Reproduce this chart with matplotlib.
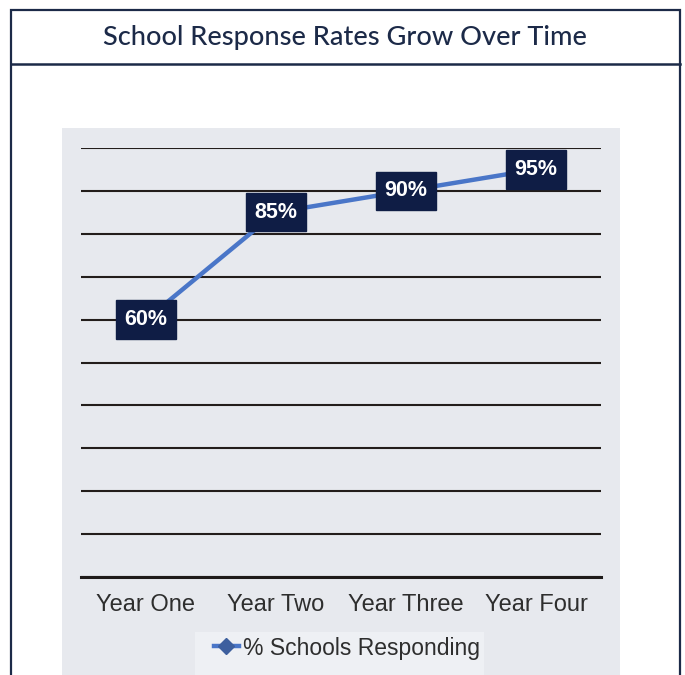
import matplotlib.pyplot as plt
from matplotlib.patches import Rectangle
from matplotlib.lines import Line2D

# data
years = ["Year One", "Year Two", "Year Three", "Year Four"]
pct_responding = [60, 85, 90, 95]
value_labels = ["60%", "85%", "90%", "95%"]

W, H = 685, 675
fig = plt.figure(figsize=(W / 100, H / 100), dpi=100)
fig.patch.set_facecolor("white")

def fx(px):
    return px / W

def fy(py):
    return 1 - py / H

navy = "#1c2a48"

# outer box and title strip
fig.patches.append(Rectangle((fx(11), fy(680)), fx(669), fy(10) - fy(680),
                             transform=fig.transFigure, fill=False, edgecolor=navy,
                             linewidth=1.6, zorder=-2))
fig.add_artist(Line2D([fx(11), fx(680)], [fy(64), fy(64)], transform=fig.transFigure,
                      color=navy, linewidth=1.8))
fig.text(fx(345), fy(38), "School Response Rates Grow Over Time", ha="center", va="center",
         fontsize=19.5, color=navy, family="Lato", fontweight="medium")

# grey chart panel
fig.patches.append(Rectangle((fx(62), 0), fx(620 - 62), fy(128),
                             transform=fig.transFigure, facecolor="#e7e9ee",
                             edgecolor="none", zorder=-2))
# legend panel
fig.patches.append(Rectangle((fx(195), 0), fx(484 - 195), fy(632),
                             transform=fig.transFigure, facecolor="#eef0f4",
                             edgecolor="none", zorder=-1))

ax = fig.add_axes([fx(81), fy(577), fx(520), fy(148) - fy(577)])
ax.set_facecolor("none")
x = list(range(len(years)))
ax.plot(x, pct_responding, color="#4a76c8", linewidth=3.2, marker="D", markersize=7,
        zorder=3)
for xi, v, lab in zip(x, pct_responding, value_labels):
    ax.text(xi, v, lab, ha="center", va="center", color="white", fontsize=15.5,
            fontweight="bold", family="Liberation Sans", zorder=5,
            bbox=dict(boxstyle="square,pad=0.4", facecolor="#0f1d45", edgecolor="#0f1d45"))

ax.set_xlim(-0.5, 3.5)
ax.set_ylim(0, 100)
ax.set_yticks(range(0, 101, 10))
ax.yaxis.grid(True, color="#231d1b", linewidth=1.5)
ax.set_axisbelow(True)
ax.tick_params(axis="y", left=False, labelleft=False)
ax.tick_params(axis="x", bottom=False, pad=9)
ax.set_xticks(x)
ax.set_xticklabels(years, fontsize=17, color="#2e2e2e", family="Liberation Sans")
for side in ["top", "left", "right"]:
    ax.spines[side].set_visible(False)
ax.spines["bottom"].set_color("#1e1a19")
ax.spines["bottom"].set_linewidth(2.2)

handle = Line2D([], [], color="#4a76c8", linewidth=3.2, marker="D", markersize=8,
                markerfacecolor="#3d5f9e", markeredgecolor="#3d5f9e")
fig.legend([handle], ["% Schools Responding"], loc="center", bbox_to_anchor=(fx(347), fy(648)),
           frameon=False, handlelength=1.1, handletextpad=0.2,
           prop={"family": "Liberation Sans", "size": 16.5}, labelcolor="#2e2e2e")

fig.savefig("out.png", dpi=100)
